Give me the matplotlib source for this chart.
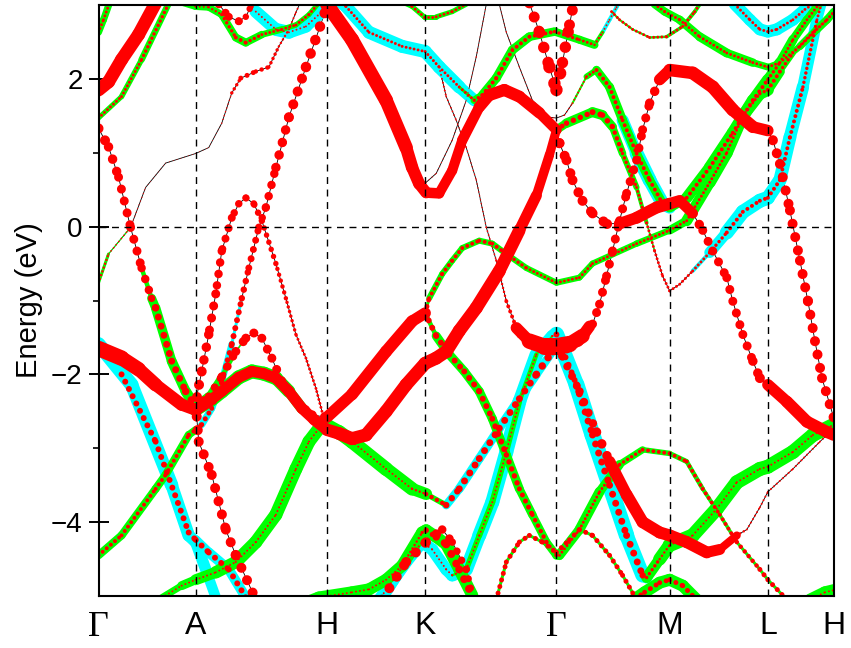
import numpy as np
import matplotlib
matplotlib.use("Agg")
import matplotlib.pyplot as plt
from matplotlib.collections import LineCollection

# high-symmetry points along the path (path coordinate, label)
k_ticks = [0, 97, 228, 326, 457, 570, 668, 734]
k_labels = ["Γ", "A", "H", "K", "Γ", "M", "L", "H"]

# bands: (k, E in eV, cyan weight, green weight, red weight)
# weights are projection weights in arbitrary units (0..17)
band_ga_ribbon = [(0, 1.85, 0, 0, 13), (10, 1.96, 0, 0, 13), (23, 2.26, 0, 0, 13), (40, 2.60, 0, 0, 13),
                  (58, 3.05, 0, 0, 13)]
band_ga_green = [(0, 1.47, 0, 5, 3), (23, 1.76, 0, 5, 3), (43, 2.26, 0, 6, 3), (70, 3.02, 0, 7, 4)]
band_ga_top = [(0, 2.63, 0, 7, 3), (5, 2.80, 0, 7, 3), (11, 3.03, 0, 7, 3)]
band_thin = [(0, -0.76, 0, 4, 3), (10, -0.37, 0, 2, 2), (32, -0.01, 0, 0, 1.5), (47, 0.53, 0, 0, 1),
             (67, 0.86, 0, 0, 0.8), (97, 0.99, 0, 0, 1), (110, 1.07, 0, 0, 0.8), (123, 1.40, 0, 0, 1),
             (133, 1.81, 0, 0, 2), (142, 2.01, 0, 0, 5), (157, 2.10, 0, 0, 5), (170, 2.16, 0, 0, 4),
             (180, 2.44, 0, 0, 3), (190, 2.67, 0, 0, 2), (197, 2.90, 0, 0, 2), (202, 3.05, 0, 0, 2)]
band_ga_fat = [(0, 1.33, 0, 0, 10), (10, 1.08, 0, 0, 10), (20, 0.67, 0, 0, 9), (32, -0.01, 0, 0, 9),
               (43, -0.56, 0, 0, 9), (53, -0.97, 0, 9, 8), (57, -1.10, 0, 9, 7), (73, -1.82, 0, 10, 7),
               (87, -2.23, 0, 10, 7), (97, -2.44, 0, 11, 8)]
band_ah_hump = [(97, -2.44, 0, 10, 8), (110, -2.30, 0, 8, 8), (123, -2.03, 0, 6, 8), (137, -1.69, 0, 3, 9),
                (147, -1.51, 0, 0, 9), (155, -1.44, 0, 0, 9), (163, -1.51, 0, 0, 9), (173, -1.78, 0, 0, 9),
                (183, -2.10, 0, 0, 9), (197, -2.37, 0, 0, 9), (213, -2.55, 0, 0, 9), (228, -2.58, 0, 0, 10)]
band_hk_upper = [(228, -2.58, 0, 0, 11), (253, -2.27, 0, 0, 12), (287, -1.69, 0, 0, 12), (313, -1.28, 0, 0, 12),
                 (326, -1.17, 0, 0, 11)]
band_kl_small = [(326, -1.17, 0, 0, 6), (330, -0.97, 0, 6, 4), (343, -0.64, 0, 6, 4), (353, -0.46, 0, 6, 4),
                 (363, -0.29, 0, 6, 4), (380, -0.19, 0, 6, 4), (393, -0.23, 0, 6, 4), (407, -0.37, 0, 6, 4),
                 (427, -0.56, 0, 6, 3), (457, -0.76, 0, 6, 3), (480, -0.69, 0, 6, 3), (493, -0.50, 0, 6, 3),
                 (537, -0.23, 0, 6, 3), (570, -0.05, 0, 7, 3), (587, 0.08, 0, 10, 3), (610, 0.60, 0, 12, 3),
                 (627, 1.00, 0, 12, 3), (643, 1.50, 0, 12, 3), (660, 1.80, 0, 12, 3), (668, 1.85, 0, 12, 4),
                 (680, 2.10, 0, 8, 4), (693, 2.35, 0, 4, 3), (713, 2.63, 0, 3, 3), (727, 2.80, 0, 3, 3),
                 (734, 2.90, 0, 3, 3)]
band_low_ribbon = [(0, -1.65, 6, 0, 16), (23, -1.78, 4, 0, 15), (40, -1.93, 0, 0, 14), (57, -2.14, 0, 0, 13),
                   (83, -2.41, 0, 0, 12), (97, -2.48, 0, 12, 12), (110, -2.37, 0, 14, 11), (123, -2.23, 0, 14, 11),
                   (140, -2.04, 0, 14, 11), (153, -1.96, 0, 14, 11), (165, -1.99, 0, 14, 11),
                   (177, -2.05, 0, 14, 11), (190, -2.23, 0, 12, 11), (203, -2.46, 0, 10, 11),
                   (215, -2.61, 0, 8, 11), (228, -2.75, 0, 0, 12), (240, -2.80, 0, 0, 13), (253, -2.87, 0, 0, 13),
                   (267, -2.82, 0, 0, 13), (287, -2.50, 0, 0, 13), (307, -2.14, 0, 0, 13), (326, -1.85, 0, 0, 13),
                   (337, -1.78, 0, 0, 13), (347, -1.69, 0, 0, 13), (360, -1.41, 0, 0, 13), (377, -1.10, 0, 0, 13),
                   (400, -0.60, 0, 0, 13), (420, -0.05, 0, 0, 12), (437, 0.42, 0, 0, 10), (450, 0.97, 0, 0, 9),
                   (457, 1.31, 0, 0, 9)]
band_h_top = [(228, 3.01, 0, 0, 14), (253, 2.53, 0, 0, 14), (287, 1.71, 0, 0, 14), (307, 1.07, 0, 0, 13),
              (313, 0.80, 0, 0, 12), (320, 0.58, 0, 0, 12), (327, 0.46, 0, 0, 11), (340, 0.45, 0, 0, 10),
              (353, 0.76, 0, 0, 10), (363, 1.17, 0, 0, 10), (380, 1.62, 0, 0, 11), (390, 1.78, 0, 0, 12),
              (405, 1.85, 0, 0, 12), (420, 1.76, 0, 0, 12), (440, 1.54, 0, 0, 11), (457, 1.31, 0, 0, 10)]
band_gm_hump = [(457, 1.31, 0, 8, 5), (467, 1.40, 0, 9, 5), (493, 1.55, 0, 10, 6), (503, 1.51, 0, 10, 6),
                (513, 1.35, 0, 8, 5), (523, 0.99, 0, 7, 4), (537, 0.53, 0, 5, 3), (547, 0.05, 0, 3, 3),
                (555, -0.33, 0, 0, 3), (563, -0.67, 0, 0, 3), (570, -0.87, 0, 0, 3), (580, -0.78, 0, 0, 3),
                (593, -0.60, 0, 0, 3), (610, -0.35, 8, 0, 3), (627, -0.08, 14, 0, 4), (643, 0.20, 14, 0, 4),
                (660, 0.35, 14, 0, 4), (668, 0.39, 14, 0, 4), (680, 0.63, 13, 0, 4), (690, 1.21, 13, 0, 4),
                (703, 1.89, 12, 0, 4), (717, 2.80, 11, 0, 3), (722, 3.05, 10, 0, 3)]
band_gm_dots = [(457, 1.31, 0, 0, 10), (460, 1.13, 0, 0, 10), (467, 0.90, 0, 0, 10), (473, 0.63, 0, 0, 10),
                (483, 0.35, 0, 0, 10), (493, 0.18, 0, 0, 10), (507, 0.04, 0, 0, 10), (520, 0.04, 0, 0, 10)]
band_m_ribbon = [(520, 0.04, 0, 0, 11), (537, 0.12, 0, 4, 12), (557, 0.26, 0, 8, 12), (570, 0.31, 0, 8, 12),
                 (580, 0.35, 0, 6, 11), (593, 0.18, 0, 0, 10)]
band_ml_dots = [(593, 0.18, 0, 0, 10), (603, -0.05, 0, 0, 9), (613, -0.33, 0, 0, 9), (627, -0.69, 0, 0, 9),
                (633, -1.01, 0, 0, 9), (643, -1.46, 0, 0, 9), (653, -1.82, 0, 0, 9), (660, -2.05, 0, 0, 10),
                (668, -2.14, 0, 0, 10)]
band_lh_ribbon = [(668, -2.14, 0, 0, 11), (687, -2.37, 0, 0, 12), (707, -2.64, 0, 0, 12), (727, -2.78, 0, 0, 12),
                  (734, -2.82, 0, 0, 12)]
band_gm_rise = [(457, -1.65, 0, 0, 12), (467, -1.65, 0, 0, 11), (480, -1.55, 0, 0, 9), (493, -1.32, 0, 0, 9),
                (500, -1.05, 0, 0, 9), (507, -0.67, 0, 0, 9), (513, -0.33, 0, 0, 9), (520, 0.08, 0, 0, 9),
                (527, 0.45, 0, 0, 9), (537, 0.90, 0, 0, 9), (543, 1.31, 0, 0, 9), (550, 1.67, 0, 0, 9),
                (560, 1.99, 0, 0, 10)]
band_ml_ribbon = [(560, 1.99, 0, 0, 11), (570, 2.12, 0, 0, 12), (593, 2.08, 0, 0, 13), (613, 1.89, 0, 0, 13),
                  (633, 1.58, 0, 0, 13), (653, 1.35, 0, 0, 12), (668, 1.30, 0, 0, 11)]
band_lh_dots = [(668, 1.30, 0, 0, 10), (673, 1.17, 0, 0, 10), (680, 0.85, 0, 0, 10), (690, 0.22, 0, 0, 10),
                (700, -0.46, 0, 0, 10), (708, -1.01, 0, 0, 10), (715, -1.55, 0, 0, 10), (722, -2.05, 0, 0, 10),
                (734, -2.60, 0, 0, 10)]
band_green_ahk = [(60, -5.05, 0, 6, 2), (83, -4.86, 0, 8, 2), (97, -4.78, 0, 10, 2), (117, -4.68, 0, 12, 2),
                  (137, -4.54, 0, 13, 2), (157, -4.27, 0, 13, 2), (177, -3.90, 0, 13, 2), (197, -3.28, 0, 13, 2),
                  (210, -2.91, 0, 13, 2), (223, -2.68, 0, 13, 2), (228, -2.69, 0, 13, 2), (240, -2.78, 0, 14, 2),
                  (253, -2.91, 0, 14, 2), (287, -3.28, 0, 14, 2), (313, -3.55, 0, 13, 2), (327, -3.62, 0, 11, 3),
                  (347, -3.77, 8, 0, 6), (360, -3.55, 9, 0, 7), (380, -3.14, 9, 0, 7), (400, -2.73, 9, 0, 7),
                  (420, -2.33, 9, 0, 7), (437, -2.00, 9, 0, 7), (453, -1.69, 8, 0, 8), (457, -1.65, 8, 0, 8)]
band_kg_desc = [(326, -1.17, 0, 0, 6), (337, -1.48, 0, 9, 6), (350, -1.73, 0, 9, 6), (365, -1.96, 0, 9, 6),
                (380, -2.23, 0, 9, 6), (393, -2.60, 0, 9, 6), (407, -3.09, 0, 9, 6), (420, -3.55, 0, 9, 5),
                (433, -3.90, 0, 8, 5), (447, -4.27, 0, 8, 4), (457, -4.45, 0, 8, 4)]
band_gl_green = [(457, -4.45, 0, 8, 3), (460, -4.45, 0, 9, 3), (480, -4.10, 0, 10, 3), (500, -3.59, 0, 10, 3),
                 (520, -3.22, 0, 8, 3), (543, -3.02, 0, 6, 4), (570, -3.07, 0, 5, 4), (587, -3.18, 0, 5, 4),
                 (603, -3.55, 0, 4, 4), (620, -3.90, 0, 4, 4), (637, -4.27, 0, 3, 4), (660, -4.64, 0, 3, 5),
                 (668, -4.78, 0, 3, 5), (687, -5.05, 0, 3, 5)]
band_kg_cyan = [(280, -5.05, 12, 0, 2), (307, -4.54, 12, 0, 2), (323, -4.27, 12, 0, 2), (333, -4.37, 12, 0, 2),
                (347, -4.64, 12, 0, 2), (353, -4.72, 12, 0, 2), (367, -4.64, 13, 5, 2), (380, -4.18, 14, 6, 2),
                (393, -3.73, 14, 6, 2), (407, -3.05, 14, 6, 2), (420, -2.37, 14, 5, 2), (437, -1.73, 13, 4, 2),
                (453, -1.48, 12, 0, 2), (457, -1.46, 12, 0, 2)]
band_k_redhump = [(283, -5.05, 10, 0, 10), (307, -4.54, 10, 0, 10), (327, -4.27, 0, 0, 10), (343, -4.10, 0, 0, 9),
                  (353, -4.27, 0, 0, 8), (367, -4.64, 0, 0, 7), (373, -4.99, 0, 0, 7)]
band_hk_bottom = [(205, -5.10, 0, 12, 2), (220, -5.02, 0, 12, 2), (253, -4.95, 0, 12, 2), (270, -4.91, 0, 12, 2),
                  (287, -4.78, 0, 12, 2), (303, -4.59, 0, 12, 2), (323, -4.14, 0, 12, 3), (327, -4.11, 0, 12, 4),
                  (337, -4.20, 0, 12, 7), (347, -4.30, 0, 12, 8), (360, -4.64, 0, 12, 8), (373, -4.99, 0, 12, 8)]
band_g_low = [(397, -5.05, 0, 3, 5), (407, -4.54, 0, 3, 5), (420, -4.27, 0, 3, 5), (430, -4.18, 0, 3, 5),
              (443, -4.27, 0, 3, 5), (457, -4.41, 0, 3, 5), (470, -4.24, 0, 3, 5), (480, -4.10, 0, 3, 5),
              (493, -4.18, 0, 3, 5), (510, -4.45, 0, 3, 5), (523, -4.72, 0, 3, 5), (537, -5.05, 0, 3, 5)]
band_gm_cyan = [(457, -1.46, 15, 0, 5), (477, -2.14, 16, 0, 7), (493, -2.82, 16, 0, 7), (510, -3.50, 16, 0, 7),
                (527, -4.18, 15, 0, 7), (543, -4.72, 14, 0, 7), (547, -4.75, 10, 6, 6)]
band_mh_green = [(547, -4.75, 0, 10, 4), (560, -4.50, 0, 12, 3), (570, -4.31, 0, 14, 2), (593, -4.18, 0, 14, 2),
                 (617, -3.82, 0, 14, 2), (637, -3.46, 0, 14, 2), (660, -3.28, 0, 14, 2), (668, -3.25, 0, 14, 2),
                 (693, -3.05, 0, 14, 2), (713, -2.82, 0, 14, 2), (734, -2.68, 0, 14, 2)]
band_gm_s_dots = [(457, -1.62, 0, 0, 8), (463, -1.76, 0, 0, 8), (480, -2.23, 0, 0, 8), (497, -2.78, 0, 0, 9),
                  (510, -3.18, 0, 0, 10)]
band_gm_s_ribbon = [(510, -3.18, 0, 0, 11), (527, -3.63, 0, 0, 12), (543, -4.00, 0, 0, 12), (560, -4.14, 0, 0, 12),
                    (570, -4.18, 0, 0, 12), (587, -4.27, 0, 0, 12), (607, -4.41, 0, 0, 12), (620, -4.37, 0, 0, 10),
                    (637, -4.18, 0, 0, 6)]
band_lh_thin = [(637, -4.18, 0, 0, 3), (647, -4.10, 0, 0, 2), (660, -3.80, 0, 0, 2), (668, -3.59, 0, 0, 2),
                (693, -3.28, 0, 0, 2), (720, -2.91, 0, 0, 2), (734, -2.73, 0, 0, 2)]
band_ga_cyan = [(0, -1.59, 14, 0, 0), (33, -2.14, 14, 0, 0), (73, -3.50, 13, 0, 0), (90, -4.18, 12, 0, 0),
                (97, -4.27, 12, 0, 0), (107, -4.64, 11, 0, 0), (117, -5.02, 10, 0, 0)]
band_ga_cyandots = [(23, -2.00, 0, 0, 6), (57, -2.91, 0, 0, 6), (90, -4.14, 0, 0, 6), (97, -4.24, 9, 0, 6),
                    (110, -4.41, 10, 0, 6), (130, -4.64, 10, 0, 6), (147, -5.02, 10, 0, 6)]
band_a_cross = [(0, -4.45, 0, 8, 4), (23, -4.18, 0, 8, 4), (57, -3.55, 0, 8, 4), (67, -3.36, 0, 8, 4),
                (90, -2.82, 0, 8, 4), (97, -2.75, 0, 7, 5), (103, -2.68, 7, 0, 5), (113, -2.46, 7, 0, 5),
                (123, -2.10, 7, 0, 5), (133, -1.59, 6, 0, 6), (143, -0.97, 0, 0, 6), (150, -0.56, 0, 0, 7),
                (160, -0.01, 0, 0, 7), (167, 0.26, 0, 0, 8), (177, 0.80, 0, 0, 9), (190, 1.48, 0, 0, 10),
                (207, 2.16, 0, 0, 10), (228, 2.98, 0, 0, 11)]
band_lambda = [(223, -2.50, 0, 0, 3), (217, -2.19, 0, 0, 3), (207, -1.78, 0, 0, 3), (197, -1.46, 0, 0, 3),
               (187, -0.97, 0, 0, 4), (177, -0.50, 0, 0, 5), (163, 0.08, 0, 0, 6), (155, 0.31, 0, 0, 7),
               (147, 0.39, 0, 0, 7), (140, 0.31, 0, 0, 7), (133, 0.12, 0, 0, 8), (123, -0.33, 0, 0, 8),
               (117, -0.91, 0, 0, 9), (110, -1.46, 0, 0, 9), (103, -1.96, 0, 0, 10), (98, -2.30, 0, 0, 10),
               (98, -2.57, 0, 0, 10), (100, -2.91, 0, 0, 10), (113, -3.36, 0, 0, 10), (127, -4.10, 0, 0, 10),
               (137, -4.45, 0, 0, 10), (157, -5.05, 0, 0, 10)]
band_ah_top_cyan = [(157, 2.91, 12, 0, 2), (177, 2.67, 13, 0, 2), (190, 2.63, 13, 0, 2), (207, 2.71, 12, 0, 2),
                    (223, 2.91, 12, 0, 2), (230, 3.05, 12, 0, 2)]
band_hg_top = [(240, 3.05, 12, 0, 3), (247, 2.98, 12, 0, 3), (270, 2.63, 13, 0, 3), (303, 2.44, 13, 0, 3),
               (326, 2.37, 13, 0, 3), (340, 2.16, 13, 0, 3), (360, 1.89, 13, 0, 3), (375, 1.71, 11, 6, 3),
               (383, 1.78, 0, 9, 4), (397, 2.01, 0, 9, 4), (413, 2.39, 0, 9, 4), (430, 2.57, 0, 9, 4),
               (455, 2.64, 0, 8, 4), (480, 2.53, 0, 8, 3), (495, 2.46, 0, 8, 3), (503, 2.63, 4, 0, 2),
               (510, 2.80, 4, 0, 2), (517, 2.97, 4, 0, 2), (520, 3.05, 4, 0, 2)]
band_ah_green = [(85, 3.03, 0, 7, 2), (97, 2.98, 0, 7, 2), (110, 2.97, 0, 7, 2), (123, 2.87, 0, 7, 3),
                 (137, 2.56, 0, 8, 4), (147, 2.49, 0, 8, 4), (163, 2.60, 0, 7, 3), (183, 2.67, 0, 6, 3),
                 (197, 2.73, 0, 5, 3), (210, 2.87, 0, 5, 3), (220, 3.03, 0, 5, 3)]
band_ah_redcup = [(120, 3.01, 0, 0, 8), (130, 2.84, 0, 0, 8), (140, 2.78, 0, 0, 8), (147, 2.84, 0, 0, 7),
                  (152, 2.98, 0, 0, 6), (154, 3.05, 0, 0, 6)]
band_k_top = [(305, 3.03, 0, 5, 3), (313, 2.98, 0, 5, 3), (325, 2.84, 0, 5, 3), (337, 2.84, 0, 5, 3),
              (353, 2.91, 0, 5, 3), (367, 3.01, 0, 5, 3)]
band_k_up = [(327, 0.60, 0, 0, 1.2), (337, 0.72, 0, 0, 1.2), (353, 1.17, 0, 0, 1.2), (367, 1.71, 0, 0, 1.2),
             (377, 2.30, 0, 0, 1.2), (387, 3.01, 0, 0, 1.2)]
band_k_down = [(326, 2.37, 0, 0, 2), (340, 2.16, 0, 0, 2), (347, 1.76, 0, 0, 2), (357, 1.44, 0, 0, 1.5),
               (367, 1.07, 0, 0, 1.5), (377, 0.63, 0, 0, 1.5), (387, -0.01, 0, 0, 1.5), (397, -0.46, 0, 0, 2),
               (407, -1.01, 0, 0, 3), (417, -1.37, 0, 0, 5), (423, -1.55, 0, 0, 7)]
band_g_blob = [(417, -1.37, 0, 0, 9), (430, -1.55, 0, 0, 14), (445, -1.62, 0, 0, 17), (457, -1.62, 0, 0, 17),
               (470, -1.59, 0, 0, 16), (483, -1.48, 0, 0, 13), (490, -1.35, 0, 0, 10)]
band_g_parabola = [(400, 3.01, 0, 0, 1.2), (407, 2.63, 0, 0, 1.2), (420, 2.16, 0, 0, 1.2), (433, 1.71, 0, 0, 1.2),
                   (450, 1.48, 0, 0, 1.2), (457, 1.47, 0, 0, 1.2), (465, 1.51, 0, 0, 1.2), (473, 1.67, 0, 0, 2),
                   (487, 2.03, 0, 4, 2), (497, 2.12, 0, 8, 4), (510, 1.89, 0, 9, 4), (523, 1.44, 10, 9, 4),
                   (537, 0.99, 14, 9, 4), (550, 0.63, 14, 9, 4), (563, 0.31, 13, 9, 4), (570, 0.26, 12, 9, 4),
                   (587, 0.39, 0, 11, 4), (610, 0.80, 0, 12, 4), (633, 1.27, 0, 12, 4), (653, 1.71, 0, 12, 4),
                   (668, 1.99, 0, 11, 4), (680, 2.22, 0, 10, 3), (693, 2.53, 0, 9, 3), (707, 2.80, 0, 8, 3),
                   (720, 3.03, 0, 8, 3)]
band_g_vee = [(430, 3.03, 0, 0, 11), (440, 2.63, 0, 0, 11), (450, 2.16, 0, 0, 12), (457, 1.85, 0, 0, 13),
              (463, 2.22, 0, 0, 12), (470, 2.73, 0, 0, 11), (474, 3.01, 0, 0, 11)]
band_ml_top = [(555, 3.01, 0, 8, 3), (565, 2.91, 0, 8, 3), (580, 2.80, 0, 8, 3), (600, 2.57, 0, 9, 3),
               (627, 2.35, 0, 9, 3), (653, 2.22, 0, 8, 3), (668, 2.16, 0, 6, 3), (680, 2.22, 0, 6, 3),
               (700, 2.44, 0, 7, 3), (717, 2.67, 0, 8, 3), (727, 2.80, 0, 8, 3), (734, 2.91, 0, 8, 3)]
band_gm_top = [(512, 2.91, 0, 2, 3), (520, 2.80, 0, 2, 3), (533, 2.67, 0, 2, 3), (550, 2.56, 0, 2, 3),
               (567, 2.57, 0, 3, 3), (583, 2.71, 0, 4, 3), (595, 2.91, 0, 4, 3), (600, 3.01, 0, 4, 3)]
band_l_top = [(635, 3.01, 12, 0, 3), (650, 2.80, 12, 0, 3), (660, 2.67, 12, 0, 3), (668, 2.64, 12, 0, 3),
              (677, 2.67, 12, 0, 3), (693, 2.80, 12, 0, 3), (705, 2.94, 12, 0, 3), (715, 3.03, 12, 0, 3)]
band_m_bottom = [(530, -5.09, 0, 12, 5), (545, -4.95, 0, 12, 5), (560, -4.82, 0, 12, 5), (570, -4.78, 0, 12, 5),
                 (583, -4.86, 0, 12, 5), (597, -5.05, 0, 12, 5)]
band_h_bottom = [(710, -5.05, 0, 12, 2), (725, -4.95, 0, 12, 2), (734, -4.92, 0, 12, 2)]

PX = 0.72  # points per pixel at 100 dpi
COLORS = {2: "#00ffff", 3: "#00ff00", 4: "#ff0000"}


def add_band(ax, pts, solid=False):
    a = np.asarray(pts, dtype=float)
    ax.plot(a[:, 0], a[:, 1], color="black", lw=0.6, zorder=1)
    segs = np.stack([a[:-1, :2], a[1:, :2]], axis=1)
    for col, z in ((2, 2), (3, 3), (4, 4)):
        w = (a[:-1, col] + a[1:, col]) / 2
        m = w > 0
        if not m.any():
            continue
        if solid or col < 4:
            ls = ["solid"]
        else:
            # dotted markers, spaced a little wider for the tiny ones
            ls = [(0, (0.01, max(1.35, 4.0 / wi))) for wi in w[m]]
        lc = LineCollection(segs[m], linewidths=w[m] * PX, colors=COLORS[col],
                            linestyles=ls, capstyle="round", joinstyle="round", zorder=z)
        ax.add_collection(lc)


fig = plt.figure(figsize=(8.51, 6.48), dpi=100)
ax = fig.add_axes([98.5 / 851, 1 - 596 / 648, 735.5 / 851, 591 / 648])

ribbons = [band_ga_ribbon, band_hk_upper, band_low_ribbon, band_h_top, band_m_ribbon, band_lh_ribbon,
           band_ml_ribbon, band_gm_s_ribbon, band_g_blob]
dotted = [band_ga_green, band_ga_top, band_thin, band_ga_fat, band_ah_hump, band_kl_small, band_gm_hump,
          band_gm_dots, band_ml_dots, band_gm_rise, band_lh_dots, band_green_ahk, band_kg_desc, band_gl_green,
          band_kg_cyan, band_k_redhump, band_hk_bottom, band_g_low, band_gm_cyan, band_mh_green,
          band_gm_s_dots, band_lh_thin, band_ga_cyan, band_ga_cyandots, band_a_cross, band_lambda,
          band_ah_top_cyan, band_hg_top, band_ah_green, band_ah_redcup, band_k_top, band_k_up, band_k_down,
          band_g_parabola, band_g_vee, band_ml_top, band_gm_top, band_l_top, band_m_bottom, band_h_bottom]
for b in dotted:
    add_band(ax, b)
for b in ribbons:
    add_band(ax, b, solid=True)

for kx in k_ticks[1:-1]:
    ax.axvline(kx, color="black", lw=1.0, ls=(0, (5, 4)), zorder=6)
ax.axhline(0, color="black", lw=1.0, ls=(0, (5, 4)), zorder=6)

ax.set_xlim(k_ticks[0], k_ticks[-1])
ax.set_ylim(-5, 3)
for s in ax.spines.values():
    s.set_linewidth(1.5)
    s.set_zorder(7)

ax.set_xticks(k_ticks)
ax.set_xticklabels(k_labels)
ax.tick_params(axis="x", length=0, pad=11)
for lab in ax.get_xticklabels():
    if lab.get_text() == "Γ":
        lab.set_fontfamily("Liberation Serif")
        lab.set_fontsize(26)
    else:
        lab.set_fontfamily("Liberation Sans")
        lab.set_fontsize(23)

ax.set_yticks([-4, -2, 0, 2])
ax.set_yticks([-3, -1, 1], minor=True)
ax.tick_params(axis="y", which="major", direction="inout", length=15, width=1.4, pad=4)
ax.tick_params(axis="y", which="minor", direction="out", length=4, width=1.2)
for lab in ax.get_yticklabels():
    lab.set_fontfamily("Liberation Sans")
    lab.set_fontsize(20)
ax.set_ylabel("Energy (eV)", fontsize=21, fontfamily="Liberation Sans")
ax.yaxis.set_label_coords(-0.075, 0.5)

fig.savefig("out.png", dpi=100)
